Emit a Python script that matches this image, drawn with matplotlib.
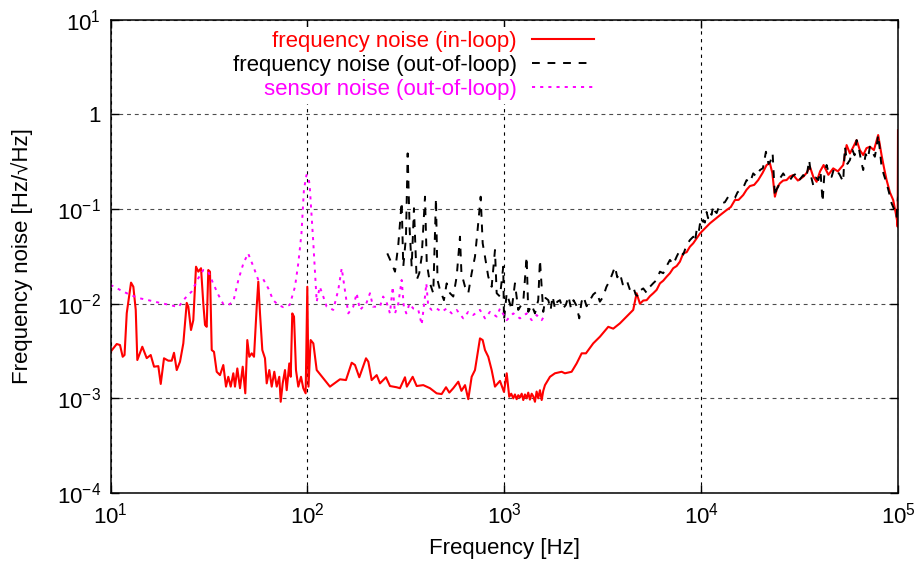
import matplotlib
matplotlib.use("Agg")
import matplotlib.pyplot as plt

plt.rcParams['font.family'] = ['Liberation Sans', 'DejaVu Sans']
plt.rcParams['mathtext.fontset'] = 'custom'
plt.rcParams['mathtext.rm'] = 'Liberation Sans'

# (frequency [Hz], noise [Hz/sqrt(Hz)])
in_loop = [
    (10, 3.1e-3), (10.75, 3.75e-3), (11.17, 3.66e-3), (11.53, 2.75e-3), (11.78, 2.87e-3),
    (12.09, 7.95e-3), (12.71, 1.67e-2), (13.06, 1.51e-2), (13.43, 8.6e-3), (13.68, 2.54e-3),
    (14.5, 3.51e-3), (15.27, 2.66e-3), (16.0, 2.87e-3), (16.64, 2.16e-3), (17.49, 2.19e-3),
    (17.99, 1.42e-3), (18.69, 2.65e-3), (19.66, 2.5e-3), (20.46, 2.5e-3), (21.01, 3.03e-3),
    (21.69, 1.99e-3), (22.54, 2.44e-3), (23.43, 3.81e-3), (24.38, 1.02e-2), (24.84, 9.3e-3),
    (25.63, 5.27e-3), (26.33, 6.7e-3), (27.18, 2.46e-2), (27.92, 2.18e-2), (28.82, 2.37e-2),
    (29.6, 1.0e-2), (30.2, 5.96e-3), (30.8, 5.7e-3), (31.38, 2.27e-2), (32.0, 2.18e-2),
    (32.66, 3.24e-3), (33.54, 3.1e-3), (34.62, 1.91e-3), (35.98, 1.76e-3), (37.4, 2.25e-3),
    (38.6, 1.33e-3), (39.65, 1.69e-3), (40.78, 1.33e-3), (42.04, 1.84e-3), (42.88, 1.33e-3),
    (44.06, 2.07e-3), (45.47, 1.28e-3), (46.93, 2.16e-3), (48.37, 1.13e-3), (49.52, 4.13e-3),
    (50.7, 2.75e-3), (52.13, 2.99e-3), (53.56, 2.75e-3), (55.28, 9.3e-3), (56.32, 1.71e-2),
    (57.45, 7.9e-3), (59.02, 3.24e-3), (60.9, 2.65e-3), (62.13, 1.44e-3), (64.05, 1.99e-3),
    (65.88, 1.33e-3), (67.91, 1.91e-3), (69.84, 1.33e-3), (71.99, 1.69e-3), (73.18, 9.2e-4),
    (74.91, 1.44e-3), (76.95, 1.99e-3), (78.5, 1.22e-3), (80.92, 2.34e-3), (82.26, 1.69e-3),
    (83.8, 7.9e-3), (85.5, 7.3e-3), (87.51, 1.99e-3), (89.9, 1.33e-3), (92.8, 1.69e-3),
    (95.3, 1.28e-3), (98.0, 1.13e-3), (99.9, 1.51e-2), (101.3, 1.33e-3), (103.9, 4.13e-3),
    (107.2, 3.81e-3), (111.5, 1.99e-3), (120.4, 1.63e-3), (130.2, 1.33e-3), (146.4, 1.59e-3),
    (157, 1.56e-3), (167.9, 2.38e-3), (174.5, 2.25e-3), (183.5, 1.67e-3), (198.5, 2.65e-3),
    (203.9, 2.44e-3), (212.1, 1.56e-3), (224.9, 1.76e-3), (233.7, 1.44e-3), (250.7, 1.67e-3),
    (262.7, 1.35e-3), (284, 1.31e-3), (295.3, 1.28e-3), (313.1, 1.67e-3), (320, 1.33e-3),
    (342.6, 1.69e-3), (359, 1.35e-3), (387.8, 1.38e-3), (419.5, 1.28e-3), (453.6, 1.13e-3),
    (480.8, 1.11e-3), (506, 1.31e-3), (526, 1.15e-3), (550.8, 1.28e-3), (584.1, 1.5e-3),
    (606, 1.2e-3), (632, 1.38e-3), (656.5, 9.8e-4), (683, 1.69e-3), (710, 1.99e-3),
    (752.8, 4.3e-3), (776.9, 4.13e-3), (798.1, 3.24e-3), (829.4, 2.75e-3), (863, 1.99e-3),
    (897.1, 1.33e-3), (951, 1.53e-3), (996.6, 1.17e-3), (1029, 1.84e-3), (1060, 1.04e-3),
    (1085, 1.12e-3), (1111, 1.0e-3), (1133, 1.1e-3), (1156, 9.8e-4), (1178, 1.08e-3),
    (1201, 1.02e-3), (1226, 1.12e-3), (1249, 9.6e-4), (1274, 1.1e-3), (1299, 1.0e-3),
    (1324, 1.15e-3), (1350, 9.7e-4), (1378, 1.12e-3), (1404, 1.05e-3), (1432, 9.2e-4),
    (1460, 1.18e-3), (1488, 1.0e-3), (1518, 1.22e-3), (1549, 9.6e-4), (1578, 1.2e-3),
    (1610, 1.38e-3), (1707, 1.69e-3), (1809, 1.84e-3), (1957, 1.91e-3), (2033, 1.84e-3),
    (2199, 1.91e-3), (2332, 2.34e-3), (2473, 2.99e-3), (2600, 2.99e-3), (2831, 3.81e-3),
    (3062, 4.48e-3), (3375, 5.7e-3), (3578, 5.45e-3), (3868, 6.2e-3), (4184, 7.3e-3),
    (4519, 8.6e-3), (4703, 1.29e-2), (4888, 1.0e-2), (5082, 1.08e-2), (5288, 1.09e-2),
    (5495, 1.2e-2), (5712, 1.29e-2), (5943, 1.4e-2), (6177, 1.64e-2), (6420, 1.75e-2),
    (6681, 1.93e-2), (6943, 2.1e-2), (7216, 2.37e-2), (7510, 2.5e-2), (7803, 2.78e-2),
    (8111, 3.4e-2), (8441, 3.5e-2), (8772, 4.0e-2), (9119, 4.35e-2), (9489, 4.9e-2),
    (9860, 5.5e-2), (10060, 5.76e-2), (10660, 6.5e-2), (11080, 7.06e-2), (11750, 7.8e-2),
    (12460, 8.6e-2), (13470, 9.76e-2), (14150, 0.105), (14850, 0.1245), (15500, 0.125),
    (16360, 0.1406), (17020, 0.16), (17690, 0.1749), (18600, 0.18), (19500, 0.2024),
    (20500, 0.24), (21510, 0.2918), (22360, 0.304), (23000, 0.24), (23700, 0.135),
    (24400, 0.17), (25130, 0.187), (26100, 0.2), (27180, 0.2024), (28200, 0.22),
    (29370, 0.2285), (31000, 0.2), (33010, 0.219), (34300, 0.24), (35700, 0.28),
    (37100, 0.22), (38600, 0.194), (40200, 0.25), (41900, 0.2918), (44300, 0.23),
    (46880, 0.269), (49500, 0.25), (52680, 0.2918), (54830, 0.474), (56980, 0.387),
    (59200, 0.45), (61630, 0.535), (64000, 0.42), (66570, 0.372), (69200, 0.44),
    (72000, 0.455), (75500, 0.42), (79320, 0.605), (82500, 0.372), (85000, 0.27),
    (87530, 0.2024), (91000, 0.15), (94540, 0.1245), (97000, 0.095), (99000, 0.075),
    (99600, 0.065), (100000, 0.68),
]

out_of_loop = [
    (254.6, 3.4e-2), (268, 2.67e-2), (278.6, 2.18e-2), (289.5, 4.17e-2), (301.2, 0.119),
    (306.9, 2.46e-2), (316.8, 5.1e-2), (323.1, 0.387), (330.8, 6.0e-2), (338.6, 2.46e-2),
    (347.8, 0.102), (359, 1.78e-2), (370.1, 2.1e-2), (380.7, 3.14e-2), (395.7, 0.135),
    (404, 2.67e-2), (419.5, 1.64e-2), (435.9, 1.29e-2), (449.9, 0.13), (458, 1.78e-2),
    (471.4, 1.4e-2), (493.9, 1.09e-2), (509.8, 1.64e-2), (530, 1.29e-2), (550.8, 1.19e-2),
    (573.1, 1.93e-2), (595.7, 5.1e-2), (606, 2.1e-2), (632, 1.51e-2), (656.5, 1.29e-2),
    (683, 2.1e-2), (710, 3.14e-2), (729.4, 5.55e-2), (758.9, 0.135), (776.9, 4.35e-2),
    (798.1, 3.14e-2), (829.4, 1.93e-2), (863, 1.51e-2), (897.1, 3.69e-2), (915.1, 1.29e-2),
    (951, 1.19e-2), (988.3, 2.46e-2), (996.6, 6.7e-3), (1029, 1.29e-2), (1069, 1.0e-2),
    (1090, 8.6e-3), (1133, 1.64e-2), (1178, 8.6e-3), (1249, 1.05e-2), (1299, 3.14e-2),
    (1324, 8.2e-3), (1378, 9.7e-3), (1432, 7.9e-3), (1488, 1.09e-2), (1518, 2.9e-2),
    (1578, 8.2e-3), (1620, 1.15e-2), (1674, 1.09e-2), (1720, 8.6e-3), (1760, 1.2e-2),
    (1809, 8.9e-3), (1860, 1.05e-2), (1919, 1.09e-2), (1980, 8.8e-3), (2054, 9.7e-3),
    (2120, 1.2e-2), (2180, 9.0e-3), (2248, 1.09e-2), (2330, 9.5e-3), (2404, 7.0e-3),
    (2470, 1.05e-2), (2528, 1.19e-2), (2620, 9.4e-3), (2724, 1.09e-2), (2830, 1.25e-2),
    (2946, 1.34e-2), (3060, 1.05e-2), (3183, 1.19e-2), (3300, 1.5e-2), (3443, 1.78e-2),
    (3550, 2.1e-2), (3650, 2.46e-2), (3750, 1.9e-2), (3868, 2.1e-2), (4000, 1.6e-2),
    (4184, 1.78e-2), (4350, 1.4e-2), (4519, 1.51e-2), (4650, 1.25e-2), (4791, 1.19e-2),
    (4950, 1.4e-2), (5082, 1.45e-2), (5290, 1.3e-2), (5495, 1.51e-2), (5720, 1.65e-2),
    (5943, 1.78e-2), (6177, 2.18e-2), (6420, 2.1e-2), (6680, 2.5e-2), (6943, 2.9e-2),
    (7216, 2.6e-2), (7510, 3.14e-2), (7803, 3.69e-2), (8111, 3.3e-2), (8441, 4.17e-2),
    (8772, 4.7e-2), (9119, 5.1e-2), (9300, 4.5e-2), (9489, 6.0e-2), (9700, 5.5e-2),
    (9860, 6.94e-2), (10050, 6.4e-2), (10250, 7.65e-2), (10450, 7.2e-2), (10660, 9.3e-2),
    (10850, 8.0e-2), (11080, 9.36e-2), (11300, 8.7e-2), (11520, 0.1076), (11750, 0.095),
    (11990, 9.07e-2), (12300, 0.105), (12710, 0.115), (13200, 0.118), (13730, 0.135),
    (14300, 0.128), (14850, 0.131), (15300, 0.15), (15800, 0.159), (16400, 0.17),
    (17020, 0.2024), (17700, 0.19), (18390, 0.238), (19100, 0.22), (19890, 0.258),
    (20600, 0.27), (21340, 0.403), (22000, 0.3), (22500, 0.32), (23080, 0.387),
    (23700, 0.135), (24100, 0.16), (24640, 0.172), (25300, 0.215), (26120, 0.238),
    (27100, 0.21), (28250, 0.2024), (29300, 0.225), (30550, 0.238), (31700, 0.205),
    (33010, 0.2285), (34200, 0.21), (35400, 0.329), (36200, 0.22), (37100, 0.179),
    (38200, 0.215), (39400, 0.2024), (40400, 0.25), (41400, 0.119), (42300, 0.24),
    (43390, 0.2918), (44700, 0.23), (46000, 0.219), (47400, 0.27), (48770, 0.258),
    (50600, 0.23), (52680, 0.194), (53740, 0.455), (55300, 0.3), (56980, 0.329),
    (58700, 0.42), (60200, 0.37), (61630, 0.535), (63500, 0.42), (65000, 0.32),
    (66570, 0.258), (68500, 0.38), (70300, 0.34), (72000, 0.455), (74000, 0.4),
    (76300, 0.357), (77800, 0.45), (79320, 0.605), (80900, 0.42), (82500, 0.28),
    (84800, 0.23), (87530, 0.187), (90000, 0.15), (92800, 0.115), (95500, 0.1),
    (98370, 0.0829), (100000, 0.135),
]

sensor = [
    (10, 1.58e-2), (11.17, 1.4e-2), (12.56, 1.24e-2), (14.1, 1.14e-2), (15.86, 1.08e-2),
    (17.8, 1.02e-2), (20.0, 9.7e-3), (22.1, 9.2e-3), (23.9, 1.14e-2), (25.8, 1.34e-2),
    (27.92, 1.86e-2), (29.6, 2.27e-2), (31.38, 2.18e-2), (33.2, 1.64e-2), (35.3, 1.24e-2),
    (37.4, 9.9e-3), (39.65, 9.7e-3), (42.04, 1.05e-2), (44.6, 1.78e-2), (47.3, 2.67e-2),
    (50.0, 3.4e-2), (53.2, 2.46e-2), (56.32, 1.78e-2), (59.7, 1.81e-2), (63.3, 1.45e-2),
    (67.0, 1.09e-2), (71.1, 9.7e-3), (75.4, 9.2e-3), (81.3, 9.7e-3), (86.5, 1.51e-2),
    (89.9, 2.67e-2), (93.3, 5.5e-2), (96, 0.159), (98.9, 0.2285), (101.3, 0.22),
    (102.8, 0.172), (107.2, 4.34e-2), (111.5, 1.05e-2), (115.6, 1.51e-2), (120.4, 1.19e-2),
    (125.3, 9.3e-3), (135.3, 8.6e-3), (143.5, 1.4e-2), (149.4, 2.37e-2), (155, 1.4e-2),
    (161.3, 7.9e-3), (171, 9.3e-3), (178, 1.29e-2), (184.8, 8.6e-3), (199, 1.0e-2),
    (207.9, 1.29e-2), (215.5, 9.3e-3), (233.7, 9.3e-3), (242.5, 1.19e-2), (252, 1.05e-2),
    (262.7, 7.9e-3), (271.2, 1.51e-2), (278.6, 7.9e-3), (289.5, 1.0e-2), (301.2, 1.78e-2),
    (309, 9.3e-3), (318, 7.9e-3), (330, 1.0e-2), (345, 8.9e-3), (366, 8.6e-3),
    (380.7, 6.0e-3), (395.7, 1.19e-2), (402, 1.64e-2), (411.2, 9.3e-3), (428, 8.6e-3),
    (453.6, 8.9e-3), (480.8, 8.2e-3), (509.8, 8.9e-3), (541, 7.9e-3), (573.1, 8.6e-3),
    (619.2, 7.0e-3), (656.5, 8.2e-3), (696, 7.6e-3), (752.8, 8.6e-3), (798.1, 7.0e-3),
    (846.2, 8.2e-3), (915.1, 7.3e-3), (951, 8.9e-3), (1029, 6.7e-3), (1111, 7.9e-3),
    (1201, 7.0e-3), (1299, 7.9e-3), (1378, 6.7e-3), (1460, 7.6e-3), (1549, 6.7e-3),
    (1610, 7.6e-3),
]

xticks = [1e1, 1e2, 1e3, 1e4, 1e5]
xlabels = ["$\\mathdefault{10^{1}}$", "$\\mathdefault{10^{2}}$", "$\\mathdefault{10^{3}}$",
           "$\\mathdefault{10^{4}}$", "$\\mathdefault{10^{5}}$"]
yticks = [1e-4, 1e-3, 1e-2, 1e-1, 1, 10]
ylabels = ["$\\mathdefault{10^{-4}}$", "$\\mathdefault{10^{-3}}$", "$\\mathdefault{10^{-2}}$",
           "$\\mathdefault{10^{-1}}$", "1", "$\\mathdefault{10^{1}}$"]

fig = plt.figure(figsize=(9.18, 5.65), dpi=100)
ax = fig.add_axes([0.1204, 0.1274, 0.8578, 0.8377])
ax.set_xscale("log")
ax.set_yscale("log")

f, v = zip(*in_loop)
ax.plot(f, v, color="red", lw=1.5, label="frequency noise (in-loop)")
f, v = zip(*out_of_loop)
ax.plot(f, v, color="black", lw=1.4, dashes=(4, 4), label="frequency noise (out-of-loop)")
f, v = zip(*sensor)
ax.plot(f, v, color="magenta", lw=1.4, dashes=(1.6, 2.6), label="sensor noise (out-of-loop)")

ax.set_xlim(10, 1e5)
ax.set_ylim(1e-4, 10)
ax.set_xticks(xticks)
ax.set_xticklabels(xlabels)
ax.set_yticks(yticks)
ax.set_yticklabels(ylabels)
ax.minorticks_off()
ax.tick_params(direction="in", top=True, right=True, length=6, width=1,
               labelsize=16, pad=7)
ax.xaxis.grid(True, color="black", lw=0.8, linestyle=(0, (3, 4)))
ax.yaxis.grid(True, color="0.3", lw=0.8, linestyle=(0, (3.5, 3.5)))
ax.set_axisbelow(True)
for s in ax.spines.values():
    s.set_linewidth(1.1)

ax.set_xlabel("Frequency [Hz]", fontsize=16)
ax.set_ylabel("Frequency noise [Hz/\u221aHz]", fontsize=16)
ax.xaxis.set_label_coords(0.5, -0.095)
ax.yaxis.set_label_coords(-0.098, 0.5)

ax.legend(loc="upper right", bbox_to_anchor=(0.62, 0.985), markerfirst=False,
          frameon=True, fancybox=False, facecolor="white", edgecolor="none",
          framealpha=1, fontsize=16, handlelength=2.8, handletextpad=0.7,
          labelspacing=0.12, borderpad=0.2, borderaxespad=0, labelcolor="linecolor")

fig.savefig("out.png", dpi=100)
